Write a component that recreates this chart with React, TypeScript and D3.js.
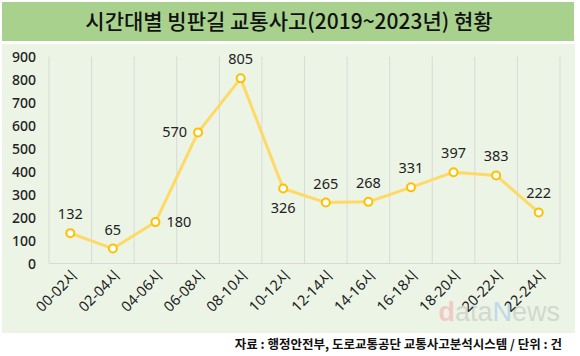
import React from "react";
import * as d3 from "d3";

const categories = ["00-02시","02-04시","04-06시","06-08시","08-10시","10-12시","12-14시","14-16시","16-18시","18-20시","20-22시","22-24시"];
const values = [132, 65, 180, 570, 805, 326, 265, 268, 331, 397, 383, 222];
const labelPos = ["top","top","right","left","top","bottom","top","top","top","top","top","top"];
const yTicks = [0, 100, 200, 300, 400, 500, 600, 700, 800, 900];

const W = 580, H = 356;
const FONT = "'Noto Sans CJK KR', sans-serif";
const NUMFONT = "'Noto Sans', 'Noto Sans CJK KR', sans-serif";

export default function App() {
  const x = d3.scaleBand<string>().domain(categories).range([49, 560]);
  const y = d3.scaleLinear().domain([0, 900]).range([263.5, 56.5]);
  const cx = (c: string) => (x(c) as number) + x.bandwidth() / 2;
  const line = d3.line<number>().x((_, i) => cx(categories[i])).y((v) => y(v));
  const bounds = [...categories.map((c) => x(c) as number), 560];

  return (
    <svg width={W} height={H} style={{ position: "absolute", left: 0, top: 0, fontFamily: FONT }}>
      <rect x={0} y={0} width={W} height={H} fill="#ffffff" />
      <rect x={2} y={2} width={572} height={39} fill="#a9d18e" />
      <text x={289} y={29} textAnchor="middle" fontSize={21} fill="#111" fontWeight={500}>
        시간대별 빙판길 교통사고(2019~2023년) 현황
      </text>
      <rect x={2} y={44} width={573} height={289} fill="#ebf4e5" />
      {bounds.map((b, i) => (
        <line key={i} x1={b} x2={b} y1={y(900)} y2={y(0)} stroke="#d9d9d9" strokeWidth={1} />
      ))}
      <line x1={49} x2={560} y1={y(0)} y2={y(0)} stroke="#d9d9d9" strokeWidth={1} />
      {yTicks.map((t) => (
        <text key={t} x={36} y={y(t) + 5} textAnchor="end" fontSize={14} fontFamily={NUMFONT} fontWeight={500} fill="#222">{t}</text>
      ))}
      <text x={560} y={321} textAnchor="end" fontSize={27} fontFamily="'Liberation Sans', sans-serif">
        <tspan fill="#f0cbc6" fontWeight={700}>d</tspan><tspan fill="#d3d8cf">ata</tspan><tspan fill="#bfd9ea">N</tspan><tspan fill="#d3d8cf">ews</tspan>
      </text>
      {categories.map((c) => (
        <text key={c} transform={`translate(${cx(c) + 8},${y(0) + 13}) rotate(-45)`} textAnchor="end" fontSize={14.5} fontFamily={NUMFONT} fill="#222">{c}</text>
      ))}
      <path d={line(values) || ""} fill="none" stroke="#ffd966" strokeWidth={3} strokeLinejoin="round" />
      {values.map((v, i) => (
        <circle key={i} cx={cx(categories[i])} cy={y(v)} r={4} fill="#fff" stroke="#ffc000" strokeWidth={2} />
      ))}
      {values.map((v, i) => {
        const px = cx(categories[i]), py = y(v);
        const p = labelPos[i];
        let tx = px, ty = py - 14, anchor = "middle";
        if (p === "right") { tx = px + 11; ty = py + 5; anchor = "start"; }
        if (p === "left") { tx = px - 11; ty = py + 5; anchor = "end"; }
        if (p === "bottom") { ty = py + 24; }
        return <text key={i} x={tx} y={ty} textAnchor={anchor} fontSize={14.5} fontFamily={NUMFONT} fill="#222">{v}</text>;
      })}
      <text x={562} y={349} textAnchor="end" fontSize={12.5} fontWeight={700} fill="#111">
        자료 : 행정안전부, 도로교통공단 교통사고분석시스템 / 단위 : 건
      </text>
    </svg>
  );
}
